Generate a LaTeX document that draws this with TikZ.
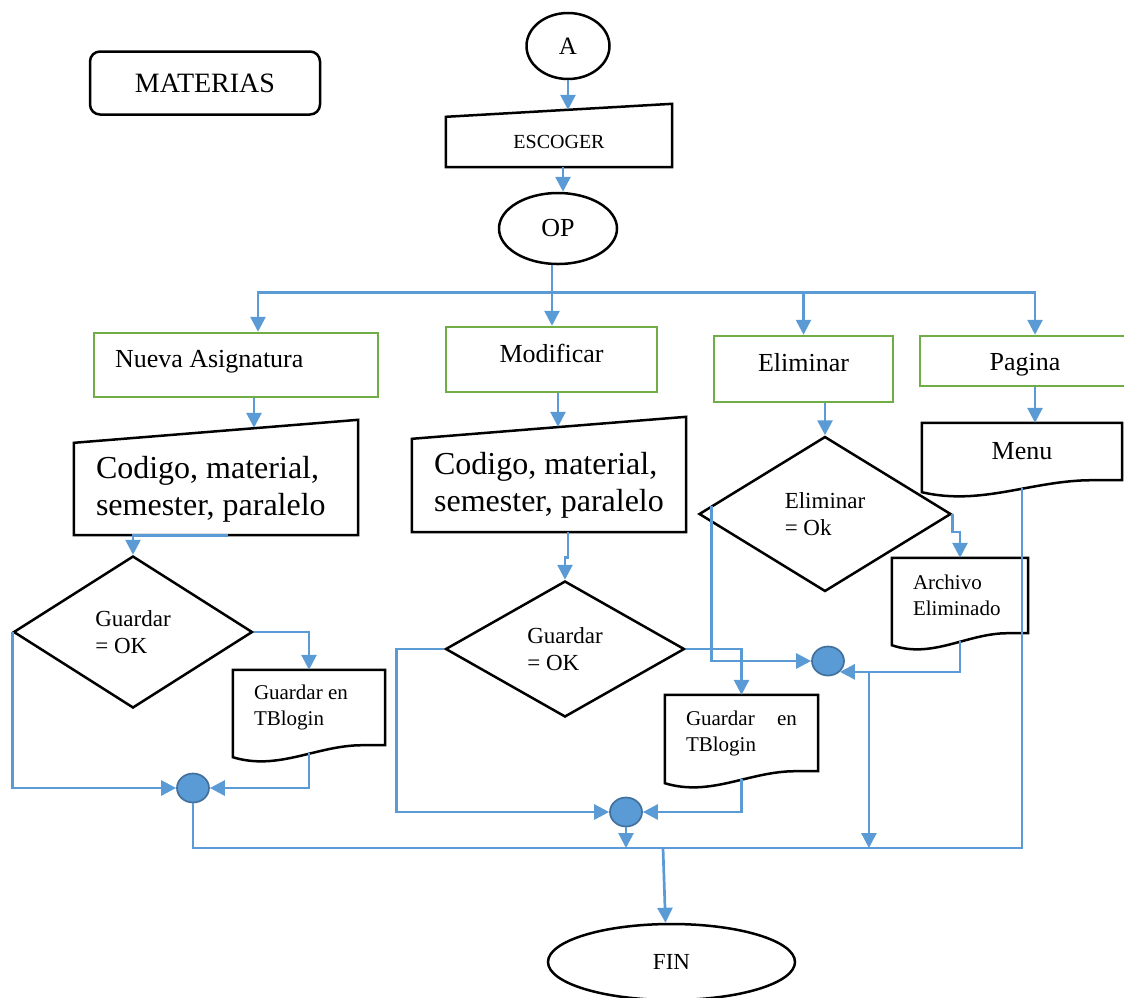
\documentclass[tikz,border=0pt]{standalone}
\usepackage{fontspec}
\setmainfont{Liberation Serif}
\usetikzlibrary{arrows.meta, calc, shapes.geometric}
\definecolor{flowblue}{HTML}{5B9BD5}
\definecolor{boxgreen}{HTML}{70AD47}
\definecolor{dotedge}{HTML}{41719C}

% manual input outline: node name, rise of the right corner
\newcommand{\manualin}[2]{%
  \draw[outline] (#1.south west) -- (#1.north west) -- ([yshift=#2]#1.north east) -- (#1.south east) -- cycle;}
% document outline with a wavy bottom
\newcommand{\docout}[1]{%
  \draw[outline] ([yshift=-12pt]#1.south west) -- (#1.north west) -- (#1.north east) -- (#1.south east)
    -- ($(#1.south west)!0.85!(#1.south east)$)
    .. controls ($(#1.south west)!0.55!(#1.south east)$) and ($(#1.south west)!0.3!(#1.south east)+(0pt,-26pt)$)
    .. ([yshift=-12pt]#1.south west) -- cycle;}

\begin{document}
\begin{tikzpicture}[
    x=1pt, y=-1pt,
    >={Triangle[length=15pt, width=15pt]},
    flow/.style={flowblue, line width=2.7pt, ->},
    thinflow/.style={flowblue, line width=1.4pt},
    outline/.style={black, line width=2.5pt},
    terminal/.style={ellipse, draw, line width=2.5pt, inner sep=0pt},
    greenbox/.style={draw=boxgreen, line width=2.5pt, inner sep=0pt,
        text height=19pt, text depth=14pt, font=\fontsize{26}{31}\selectfont},
    inputbox/.style={inner sep=0pt, align=flush left},
    docbox/.style={inner sep=0pt, align=flush left},
    decision/.style={diamond, draw, line width=2.5pt, inner sep=0pt, align=left,
        font=\fontsize{23}{27}\selectfont},
    joint/.style={ellipse, fill=flowblue, draw=dotedge, line width=1.7pt,
        minimum width=32pt, minimum height=29pt, inner sep=0pt},
]
\path[use as bounding box, clip] (0,0) rectangle (1124,997);

% =============================================
% TOP – title, start, input and option
% =============================================
\node[draw, rounded corners=10pt, line width=2.5pt, minimum width=230pt, minimum height=63pt,
      font=\fontsize{28}{34}\selectfont] (materias) at (205,83) {MATERIAS};

\node[terminal, minimum width=83pt, minimum height=66pt, font=\fontsize{25}{30}\selectfont] (A) at (568,46) {A};

\node[inputbox, minimum width=226pt, minimum height=50pt, font=\fontsize{20}{24}\selectfont] (esc) at (559,142) {ESCOGER};
\manualin{esc}{13pt}

\node[terminal, minimum width=118pt, minimum height=71pt, font=\fontsize{26}{31}\selectfont] (op) at (558,228.5) {OP};

% =============================================
% OPTIONS – green boxes
% =============================================
\node[greenbox, minimum width=284pt, minimum height=64pt, text width=242pt, inner xsep=21pt, align=flush left] (nueva) at (236,365) {Nueva Asignatura};
\node[greenbox, minimum width=211pt, minimum height=65pt] (mod) at (551.5,359.5) {Modificar};
\node[greenbox, minimum width=179pt, minimum height=66pt] (elim) at (803.5,369) {Eliminar};
\node[greenbox, minimum width=210pt, minimum height=50pt, text depth=0pt] (pag) at (1025,361) {Pagina};

% Input of the data
\node[inputbox, minimum width=284pt, minimum height=92pt, text width=240pt, inner xsep=22pt,
      font=\fontsize{32}{37}\selectfont] (cod1) at (216,489) {Codigo, material,\\semester, paralelo};
\manualin{cod1}{23pt}
\node[inputbox, minimum width=274pt, minimum height=93pt, font=\fontsize{32}{37}\selectfont] (cod2) at (549,485.5) {Codigo, material,\\semester, paralelo};
\manualin{cod2}{22pt}

% Menu document
\node[docbox, minimum width=200pt, minimum height=57pt, font=\fontsize{26}{31}\selectfont] (menu) at (1022,451.5) {Menu};
\docout{menu}

% =============================================
% DECISIONS
% =============================================
\node[decision, minimum width=239pt, minimum height=152pt] (d1) at (133,632) {Guardar\\= OK};
\node[decision, minimum width=239pt, minimum height=136pt] (d2) at (565,649) {Guardar\\= OK};
\node[decision, minimum width=252pt, minimum height=155pt] (d3) at (825,514) {Eliminar\\= Ok};

% Result documents
\node[docbox, minimum width=152pt, minimum height=75pt, text width=110pt, inner xsep=21pt,
      font=\fontsize{21}{26}\selectfont] (doc1) at (309,707.5) {Guardar en\\TBlogin};
\docout{doc1}
\node[docbox, minimum width=153pt, minimum height=76pt, text width=111pt, inner xsep=21pt,
      font=\fontsize{21}{26}\selectfont] (doc2) at (741.5,733) {Guardar \hfill en\\TBlogin};
\docout{doc2}
\node[docbox, minimum width=136pt, minimum height=75pt, text width=94pt, inner xsep=21pt,
      font=\fontsize{21}{26}\selectfont] (arch) at (960,595.5) {Archivo\\Eliminado};
\docout{arch}

% Connectors and end
\node[joint] (c1) at (193,788) {};
\node[joint] (c2) at (626,812) {};
\node[joint] (c3) at (828,661) {};

\node[terminal, minimum width=247pt, minimum height=76pt, font=\fontsize{23}{27}\selectfont] (fin) at (671.5,962) {FIN};

% =============================================
% ARROWS
% =============================================
\draw[flow] (A.south) -- ([xshift=9pt,yshift=7pt]esc.north);
\draw[flow] ([xshift=4pt]esc.south) -- ([xshift=4pt]esc.south |- op.north);
\draw[flow] ([xshift=-6pt]op.south) -- ([xshift=-6pt]op.south |- mod.north);

% split to the options
\coordinate (split) at ($(op.south)+(-6pt,-27pt)$);
\draw[flow] (split) -| ([xshift=22pt]nueva.north);
\draw[flow] (split) -| (elim.north);
\draw[flow] (split) -| ([xshift=10pt]pag.north);

% options to their next step
\draw[flow] ([xshift=18pt]nueva.south) -- ([xshift=38pt,yshift=15pt]cod1.north);
\draw[flow] ([xshift=6.5pt]mod.south) -- ([xshift=9pt,yshift=12pt]cod2.north);
\draw[flow] (d3.north |- elim.south) -- (d3.north);
\draw[flow] ([xshift=10pt]pag.south) -- ([xshift=10pt]pag.south |- menu.north);

% Nueva Asignatura branch
\draw[flow] ([xshift=12pt]cod1.south) -| (d1.north);
\draw[flow] (d1.east) -| (doc1.north);
\draw[flow] (d1.west) |- (c1.west);
\draw[flow] ([yshift=-8pt]doc1.south) |- (c1.east);

% Modificar branch
\draw[flow] ([xshift=19pt]cod2.south) -- ++(0,25) -| (d2.north);
\draw[flow] (d2.east) -| (doc2.north);
\draw[flow] (d2.west) -- ++(-48,0) |- (c2.west);
\draw[flow] ([yshift=-8pt]doc2.south) |- (c2.east);

% Eliminar branch
\draw[flow] (d3.east) -- ++(0,18) -| (arch.north);
\draw[flow] ([xshift=14pt,yshift=8pt]d3.west) |- (c3.west);
\draw[flow] ([yshift=-8pt]arch.south) |- (c3.south east);

% collecting line to FIN
\coordinate (bus) at (663,848);
\coordinate (drop) at ($(c3.south east)+(29pt,0pt)$);
\draw[thinflow] (c1.south) |- (bus) -| ([yshift=-8pt]menu.south);
\draw[flow] (c2.south) -- (c2.south |- bus);
\draw[flow] (drop) -- (drop |- bus);
\draw[flow] (bus) -- ([xshift=-6pt]fin.north);

\end{tikzpicture}
\end{document}
